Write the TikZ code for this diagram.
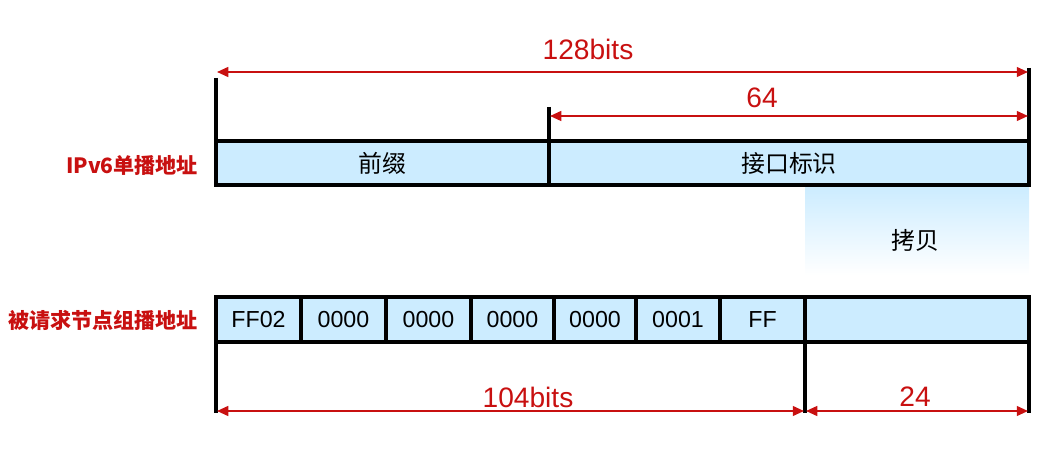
\documentclass[tikz,border=0pt]{standalone}
\usepackage{fontspec}
\setmainfont{Liberation Sans}
\newfontfamily\cjk{Noto Sans CJK SC}
\usetikzlibrary{arrows.meta}
\definecolor{cellblue}{RGB}{204,236,255}
\definecolor{dimred}{RGB}{200,16,16}

\begin{document}
\begin{tikzpicture}[x=0.025cm,y=-0.025cm,
  cell/.style={fill=cellblue,draw=black,line width=2.4pt},
  tickline/.style={draw=black,line width=2.4pt},
  dimline/.style={dimred,line width=1.3pt,{Triangle[length=8pt,width=7pt]}-{Triangle[length=8pt,width=7pt]}},
  dimlabel/.style={text=dimred,font=\fontsize{20}{20}\selectfont},
  cellnum/.style={font=\fontsize{16.5}{16.5}\selectfont},
  celltext/.style={font=\cjk\fontsize{17}{17}\selectfont},
  rowname/.style={anchor=east,text=dimred,font=\cjk\bfseries\fontsize{15}{15}\selectfont}]

\useasboundingbox (0,0) rectangle (1064,465);

% Copy region (fades out downwards)
\shade[top color=cellblue,middle color=cellblue!55,bottom color=white] (805,187) rectangle (1029,275);
\node[celltext] (copy) at (915,240) {拷贝};

% IPv6 unicast address
\draw[cell] (216,141) rectangle (1029,185);
\node[celltext] (prefix) at (382,163) {前缀};
\node[celltext] (iid) at (789,163) {接口标识};
\node[rowname] (uname) at (203,165) {IPv6单播地址};

% Solicited-node multicast address
\foreach \xa/\xb/\txt [count=\i] in {216/301/FF02,301/386/0000,386/471/0000,471/554/0000,
    554/636/0000,636/720/0001,720/805/FF,805/1029/{}}{
  \draw[cell] (\xa,297) rectangle (\xb,342);
  \node[cellnum] (f\i) at ({(\xa+\xb)/2},320) {\txt};
}
\node[rowname] (mname) at (203,320) {被请求节点组播地址};

% Upper ticks
\coordinate (ul) at (216,78);  \coordinate (ulb) at (216,141);
\coordinate (um) at (549,107); \coordinate (umb) at (549,185);
\coordinate (ur) at (1029,68); \coordinate (urb) at (1029,141);
\draw[tickline] (ul) -- (ulb);
\draw[tickline] (um) -- (umb);
\draw[tickline] (ur) -- (urb);

% Lower ticks
\coordinate (ll) at (216,342); \coordinate (llb) at (216,413);
\coordinate (lm) at (805,342); \coordinate (lmb) at (805,413);
\coordinate (lr) at (1029,342); \coordinate (lrb) at (1029,413);
\draw[tickline] (ll) -- (llb);
\draw[tickline] (lm) -- (lmb);
\draw[tickline] (lr) -- (lrb);

% Dimension arrows
\coordinate (a128l) at (217,72);  \coordinate (a128r) at (1028,72);
\coordinate (a64l) at (550,116);  \coordinate (a64r) at (1028,116);
\coordinate (a104l) at (217,411); \coordinate (a104r) at (804,411);
\coordinate (a24l) at (806,411);  \coordinate (a24r) at (1028,411);
\draw[dimline] (a128l) -- (a128r);
\draw[dimline] (a64l) -- (a64r);
\draw[dimline] (a104l) -- (a104r);
\draw[dimline] (a24l) -- (a24r);
\node[dimlabel] (l128) at (588,49) {128bits};
\node[dimlabel] (l64) at (762,98) {64};
\node[dimlabel] (l104) at (528,397) {104bits};
\node[dimlabel] (l24) at (915,397) {24};

\end{tikzpicture}
\end{document}
